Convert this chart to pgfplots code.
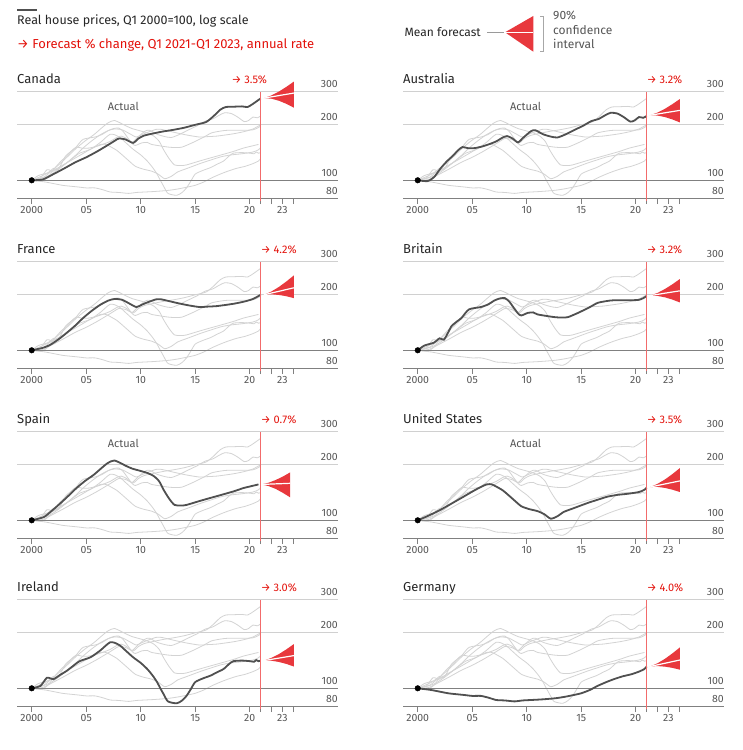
\documentclass[border=0pt]{standalone}
\usepackage{pgfplots}
\pgfplotsset{compat=1.18}
\usepackage{pgfplotstable}
\usepackage{fontspec}
\setmainfont{Fira Sans}

\definecolor{ecored}{HTML}{E3120B}
\definecolor{fanred}{HTML}{E8383D}
\definecolor{redline}{HTML}{F26B6B}
\definecolor{bundlegray}{HTML}{D3D3D3}
\definecolor{hl}{HTML}{505050}
\definecolor{txt}{HTML}{262626}
\definecolor{lab}{HTML}{555555}
\definecolor{axisgray}{HTML}{808080}
\definecolor{gridlight}{HTML}{D0D0D0}

% Real house prices, Q1 2000 = 100
\pgfplotstableread{
x y
2000 100
2001 101
2002 108
2003 116
2004 125
2005 133
2006 143
2007 155
2007.6 163
2008 168
2008.6 166
2009.3 159
2009.8 168
2010.3 174
2011 178
2012 183
2013 187
2014 192
2015 199
2016 206
2016.7 222
2017.3 240
2017.8 248
2018.5 249
2019.3 250
2019.8 248
2020.3 258
2021 276
}\canada

\pgfplotstableread{
x y
2000 100
2000.9 99
2001.5 104
2002.1 116
2002.7 127
2003.2 135
2003.7 145
2004.1 151
2004.6 149
2005.2 149
2005.9 152
2006.5 156
2007.2 162
2007.8 170
2008.2 173
2008.7 168
2009.2 160
2009.7 170
2010.4 184
2010.8 186
2011.5 177
2012.2 172
2012.8 170
2013.5 176
2014.4 187
2015.2 197
2015.9 208
2016.6 214
2017.2 224
2017.7 231
2018.3 229
2018.9 219
2019.5 207
2019.9 210
2020.3 219
2020.7 217
2021 222
}\australia

\pgfplotstableread{
x y
2000 100
2001 103
2001.7 107
2002.5 115
2003.2 124
2004 136
2004.7 149
2005.5 163
2006.3 176
2007 185
2007.6 189
2008.3 187
2009 178
2009.6 171
2010.1 176
2010.6 181
2011.4 188
2011.9 188
2012.6 184
2013.3 180
2014.3 175
2015.4 171
2016.2 172
2017 173
2018.5 178
2019.5 183
2020.3 189
2021 199
}\france

\pgfplotstableread{
x y
2000 100
2000.6 106
2001.5 110
2002 116
2002.4 114
2002.8 125
2003.1 135
2003.6 143
2004 149
2004.7 166
2005.8 171
2006.5 177
2007 185
2007.5 190
2008 191
2008.4 183
2008.7 173
2009.2 158
2009.5 154
2010.1 159
2010.6 160
2011 156
2012.5 151
2013.3 150
2013.8 151
2014.5 157
2015 162
2015.8 171
2016.5 180
2017.3 184
2018 186
2019.6 186
2020.3 187
2020.7 191
2021 196
}\britain

\pgfplotstableread{
x y
2000 100
2001.1 104
2001.8 112
2002.6 123
2003.4 136
2004.1 149
2004.9 163
2005.7 176
2006.4 191
2006.9 202
2007.3 208
2007.6 210
2008.1 204
2008.6 197
2009.2 190
2009.9 185
2010.6 180
2011.2 173
2011.7 162
2012.1 146
2012.6 131
2013.1 121
2013.7 120
2014.2 121
2015.4 127
2016.2 131
2017 135
2018.5 143
2019.4 149
2020 152
2020.8 156
}\spain

\pgfplotstableread{
x y
2000 100
2001 106
2002.1 114
2003.2 124
2004.3 135
2005.3 146
2006.3 156
2006.8 156
2007.2 152
2007.8 145
2008.3 137
2009 126
2009.5 119
2010.2 115
2011 112
2011.6 108
2012.2 102
2012.8 105
2013.4 111
2014.1 115
2015.6 124
2016.5 129
2017.4 134
2018.3 137
2019.3 139
2020.3 142
2020.8 146
2021 150
}\usa

\pgfplotstableread{
x y
2000 100
2000.8 103
2001.4 114
2002 112
2002.6 118
2003.2 124
2003.8 132
2004.4 140
2005.4 147
2006.3 160
2006.8 170
2007.2 177
2007.6 176
2008.1 170
2008.6 160
2009.3 147
2010 137
2010.6 127
2011.1 117
2011.5 108
2011.8 100
2012.1 93
2012.5 85
2013.3 83
2013.8 86
2014.2 91
2014.6 99
2015 108
2015.7 113
2016.4 117
2017 122
2017.6 127
2018.1 135
2018.5 140
2019.3 141
2020 140
2020.4 139
2020.6 142
2020.8 140
2021 141
}\ireland

\pgfplotstableread{
x y
2000 100
2001.2 98
2002 96
2002.8 94
2003.5 93
2004.3 92
2005 91
2005.8 91
2006.5 89
2007.2 86.5
2008 86
2008.9 85
2009.6 86
2010.4 86.5
2011.2 87
2011.9 87.6
2012.7 88.5
2013.5 90
2014.3 92
2015 94
2015.8 98
2016.5 103
2017.3 108
2018 112
2018.8 116
2019.6 119
2020.3 123
2020.8 127
2021 131
}\germany

% Forecast fans: closed 90% band outline (upper edge out, lower edge back)
\pgfplotstableread{
x y
2021.30 277
2021.99 286.4
2022.68 300.6
2023.36 318.5
2024.05 340
2024.05 246
2023.36 258.1
2022.68 268.1
2021.99 275.1
2021.30 277
}\bandCanada
\pgfplotstableread{
x y
2021.30 277
2021.99 281.4
2022.68 285.9
2023.36 290.4
2024.05 295
}\meanCanada

\pgfplotstableread{
x y
2021.30 224
2021.99 231.4
2022.68 242.7
2023.36 256.9
2024.05 274
2024.05 205
2023.36 212.7
2022.68 219.0
2021.99 223.2
2021.30 224
}\bandAustralia
\pgfplotstableread{
x y
2021.30 224
2021.99 227.4
2022.68 230.9
2023.36 234.4
2024.05 238
}\meanAustralia

\pgfplotstableread{
x y
2021.30 199
2021.99 207.3
2022.68 219.4
2023.36 234.7
2024.05 253
2024.05 191
2023.36 195.5
2022.68 198.6
2021.99 200.2
2021.30 199
}\bandFrance
\pgfplotstableread{
x y
2021.30 199
2021.99 203.4
2022.68 207.8
2023.36 212.4
2024.05 217
}\meanFrance

\pgfplotstableread{
x y
2021.30 197
2021.99 203.6
2022.68 213.8
2023.36 226.6
2024.05 242
2024.05 181
2023.36 187.6
2022.68 192.9
2021.99 196.3
2021.30 197
}\bandBritain
\pgfplotstableread{
x y
2021.30 197
2021.99 199.9
2022.68 203.0
2023.36 206.0
2024.05 209
}\meanBritain

\pgfplotstableread{
x y
2021.05 156
2021.71 159.2
2022.38 164.8
2023.04 172.0
2023.70 181
2023.70 133
2023.04 140.6
2022.38 147.6
2021.71 153.0
2021.05 156
}\bandSpain
\pgfplotstableread{
x y
2021.05 156
2021.71 156.5
2022.38 157.1
2023.04 157.6
2023.70 158.2
}\meanSpain

\pgfplotstableread{
x y
2021.30 151
2021.99 157.0
2022.68 165.9
2023.36 177.3
2024.05 191
2024.05 142
2023.36 146.2
2022.68 149.4
2021.99 151.3
2021.30 151
}\bandUSA
\pgfplotstableread{
x y
2021.30 151
2021.99 153.9
2022.68 156.9
2023.36 159.9
2024.05 163
}\meanUSA

\pgfplotstableread{
x y
2021.30 141
2021.99 145.8
2022.68 152.9
2023.36 162.0
2024.05 173
2024.05 131
2023.36 135.3
2022.68 138.6
2021.99 140.8
2021.30 141
}\bandIreland
\pgfplotstableread{
x y
2021.30 141
2021.99 143.2
2022.68 145.4
2023.36 147.7
2024.05 150
}\meanIreland

\pgfplotstableread{
x y
2021.30 131
2021.99 136.3
2022.68 144.1
2023.36 154.1
2024.05 166
2024.05 126
2023.36 128.8
2022.68 130.8
2021.99 131.7
2021.30 131
}\bandGermany
\pgfplotstableread{
x y
2021.30 131
2021.99 133.7
2022.68 136.4
2023.36 139.2
2024.05 142
}\meanGermany

\pgfplotsset{
  hpbundle/.style={draw=bundlegray, line width=0.8pt, smooth, tension=0.4, no marks, forget plot},
  hpline/.style={draw=hl, line width=1.8pt, smooth, tension=0.4, no marks, forget plot},
}
\tikzset{
  hpylab/.style={anchor=base east, inner sep=0pt, yshift=4pt, text=lab, font=\fontsize{10.5}{12}\selectfont},
  hptitle/.style={anchor=base west, inner sep=0pt, yshift=8pt, text=txt, font=\fontsize{13}{15}\selectfont},
  hppct/.style={inner sep=0pt, yshift=8pt, text=ecored, font=\fontsize{11}{13}\selectfont},
  hpactual/.style={inner sep=0pt, text=lab, font=\fontsize{11}{13}\selectfont},
  hpkey/.style={inner sep=0pt, text=lab, font=\fontsize{12}{14}\selectfont},
}

\newcommand{\bundle}{%
  \addplot[hpbundle] table {\canada};
  \addplot[hpbundle] table {\australia};
  \addplot[hpbundle] table {\france};
  \addplot[hpbundle] table {\britain};
  \addplot[hpbundle] table {\spain};
  \addplot[hpbundle] table {\usa};
  \addplot[hpbundle] table {\ireland};
  \addplot[hpbundle] table {\germany};
}

% #1 x, #2 y, #3 series, #4 band, #5 mean path, #6 title, #7 extra labels
\newcommand{\panel}[7]{%
  \begin{axis}[
    ymode=log, ymin=80, ymax=300,
    xmin=1998.65, xmax=2028.1,
    scale only axis, width=321pt, height=106.6pt,
    at={(#1,#2)}, anchor=south west,
    clip=false,
    axis x line*=bottom, axis y line=none,
    x axis line style={draw=axisgray, line width=1pt, -},
    ytick=\empty,
    xtick={2000,2005,2010,2015,2020,2021,2022,2023,2024},
    xticklabels={2000,05,10,15,20,,,23,},
    xtick style={draw=axisgray, line width=0.8pt},
    major tick length=6pt, tick align=outside,
    xticklabel style={font=\fontsize{10.5}{12}\selectfont, text=lab, yshift=1pt},
  ]
    \addplot[gridlight, line width=0.8pt, forget plot] coordinates {(1998.65,300) (2028.1,300)};
    \addplot[gridlight, line width=0.8pt, forget plot] coordinates {(1998.65,200) (2028.1,200)};
    \bundle
    \addplot[axisgray, line width=1pt, forget plot] coordinates {(1998.65,100) (2028.1,100)};
    \addplot[hpline] table {#3};
    \addplot[only marks, mark=*, mark size=2.8pt, black, forget plot] coordinates {(2000,100)};
    \addplot[redline, line width=0.9pt, forget plot] coordinates {(2021,77.6) (2021,300)};
    \addplot[fill=fanred, draw=none, forget plot] table {#4} -- cycle;
    \addplot[white, line width=1.2pt, forget plot] table {#5};
    \node[hpylab] at (axis cs:2028.1,300) {300};
    \node[hpylab] at (axis cs:2028.1,200) {200};
    \node[hpylab] at (axis cs:2028.1,100) {100};
    \node[hpylab] at (axis cs:2028.1,80) {80};
    \node[hptitle] at (axis cs:1998.65,300) {#6};
    #7
  \end{axis}%
}

\begin{document}
\begin{tikzpicture}
\path[use as bounding box] (0pt,0pt) rectangle (743pt,750pt);

% header
\draw[hl, line width=1.2pt] (17pt,740pt) -- (37pt,740pt);
\node[anchor=base west, inner sep=0pt, text=txt, font=\fontsize{12.5}{14}\selectfont] at (17pt,725pt) {Real house prices, Q1 2000=100, log scale};
\node[anchor=base west, inner sep=0pt, text=ecored, font=\fontsize{13}{15}\selectfont] at (17pt,701.5pt) {→ Forecast \% change, Q1 2021-Q1 2023, annual rate};

% key
\node[hpkey, anchor=base east, text=txt] at (481pt,713.5pt) {Mean forecast};
\draw[axisgray!80, line width=1.2pt] (487pt,717.7pt) -- (504pt,717.7pt);
\fill[fanred] (505pt,717.7pt) -- (533.3pt,734pt) -- (533.3pt,698.3pt) -- cycle;
\draw[white, line width=1.1pt] (505pt,717.7pt) -- (533.3pt,717.7pt);
\draw[gridlight!80!black, line width=0.8pt] (540pt,734pt) -- (543.3pt,734pt) -- (543.3pt,698.3pt) -- (540pt,698.3pt);
\node[hpkey, anchor=base west] at (553pt,730.5pt) {90\%};
\node[hpkey, anchor=base west] at (553pt,715.5pt) {confidence};
\node[hpkey, anchor=base west] at (553pt,701pt) {interval};

\panel{17pt}{551.7pt}{\canada}{\bandCanada}{\meanCanada}{Canada}{%
  \node[hppct, anchor=base east] at (axis cs:2021.6,300) {→ 3.5\%};
  \node[hpactual] at (axis cs:2008.4,251) {Actual};}
\panel{403pt}{551.7pt}{\australia}{\bandAustralia}{\meanAustralia}{Australia}{%
  \node[hppct, anchor=base west] at (axis cs:2021,300) {→ 3.2\%};
  \node[hpactual] at (axis cs:2009.9,251) {Actual};}
\panel{17pt}{381.7pt}{\france}{\bandFrance}{\meanFrance}{France}{%
  \node[hppct, anchor=base west] at (axis cs:2021,300) {→ 4.2\%};}
\panel{403pt}{381.7pt}{\britain}{\bandBritain}{\meanBritain}{Britain}{%
  \node[hppct, anchor=base west] at (axis cs:2021,300) {→ 3.2\%};}
\panel{17pt}{211.7pt}{\spain}{\bandSpain}{\meanSpain}{Spain}{%
  \node[hppct, anchor=base west] at (axis cs:2021,300) {→ 0.7\%};
  \node[hpactual] at (axis cs:2008.4,258) {Actual};}
\panel{403pt}{211.7pt}{\usa}{\bandUSA}{\meanUSA}{United States}{%
  \node[hppct, anchor=base west] at (axis cs:2021,300) {→ 3.5\%};
  \node[hpactual] at (axis cs:2009.9,258) {Actual};}
\panel{17pt}{43.7pt}{\ireland}{\bandIreland}{\meanIreland}{Ireland}{%
  \node[hppct, anchor=base west] at (axis cs:2021,300) {→ 3.0\%};}
\panel{403pt}{43.7pt}{\germany}{\bandGermany}{\meanGermany}{Germany}{%
  \node[hppct, anchor=base west] at (axis cs:2021,300) {→ 4.0\%};}
\end{tikzpicture}
\end{document}
